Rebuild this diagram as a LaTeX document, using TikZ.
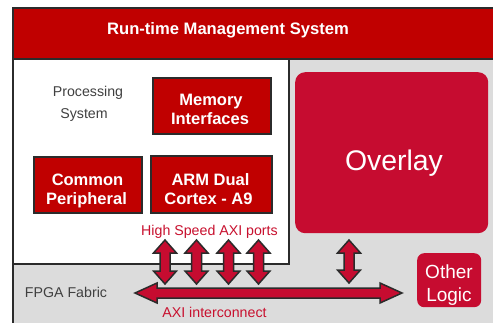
\documentclass[tikz,border=0pt]{standalone}
\usepackage{fontspec}
\setmainfont{Liberation Sans}
\definecolor{darkred}{HTML}{C00000}
\definecolor{crimson}{HTML}{C60C30}
\definecolor{fabricgray}{HTML}{DCDCDC}
\definecolor{edgegray}{HTML}{2B2B2B}
\definecolor{pstext}{HTML}{404040}
\definecolor{redtext}{HTML}{C8102E}
\tikzset{
  region/.style={draw=edgegray, line width=2pt, anchor=north west, inner sep=0pt},
  redbox/.style={draw=edgegray, line width=2.2pt, fill=darkred, anchor=north west, inner sep=0pt},
  boxtext/.style={text=white, inner sep=0pt, anchor=base, font=\fontsize{16.5}{19}\selectfont\bfseries},
  softbox/.style={fill=crimson, rounded corners=10pt, anchor=north west, inner sep=0pt},
  whitelabel/.style={text=white, inner sep=0pt, anchor=base},
  graylabel/.style={text=pstext, inner sep=0pt, anchor=base, font=\fontsize{14.2}{22}\selectfont},
  redlabel/.style={text=redtext, inner sep=0pt, anchor=base, font=\fontsize{14.2}{17}\selectfont},
  blockarrow/.style={fill=crimson, draw=edgegray, line width=1.5pt, line join=miter},
}
\newcommand\VArrow[4]{% name, x, ytop, ybottom
  \coordinate (#1-top) at (#2,#3);
  \coordinate (#1-bot) at (#2,#4);
  \draw[blockarrow] (#1-top) -- (#2+11.5,#3+13) -- (#2+5,#3+13) -- (#2+5,#4-13) -- (#2+11.5,#4-13)
    -- (#1-bot) -- (#2-11.5,#4-13) -- (#2-5,#4-13) -- (#2-5,#3+13) -- (#2-11.5,#3+13) -- cycle;}
\begin{document}
\begin{tikzpicture}[x=1pt,y=-1pt]
\useasboundingbox (0,0) rectangle (493,322);
\fill[white] (0,0) rectangle (493,322);
% FPGA fabric
\node[region, fill=fabricgray, minimum width=495pt, minimum height=280pt] (fpga) at (12,58) {};
% Processing system
\node[region, fill=white, minimum width=276pt, minimum height=205pt] (ps) at (12,58) {};
% Run-time management bar
\node[region, line width=1.5pt, fill=darkred, minimum width=495pt, minimum height=51pt] (rtms) at (12,7) {};
\node[whitelabel, font=\fontsize{16.6}{19}\selectfont\bfseries] (rtmslabel) at (228,34) {Run-time Management System};
% Overlay
\node[softbox, minimum width=193pt, minimum height=161pt] (overlay) at (295,72) {};
\node[whitelabel, font=\fontsize{28.4}{32}\selectfont] (overlaylabel) at (394,170) {Overlay};
% Other logic
\node[softbox, rounded corners=7pt, minimum width=64pt, minimum height=54pt] (other) at (417,253) {};
\node[whitelabel, font=\fontsize{19}{23}\selectfont] (otherlabel1) at (449,278) {Other};
\node[whitelabel, font=\fontsize{19}{23}\selectfont] (otherlabel2) at (449,301) {Logic};
% PS contents
\node[graylabel] (pslabel1) at (88,96.5) {Processing};
\node[graylabel] (pslabel2) at (84,118) {System};
\node[redbox, minimum width=118pt, minimum height=56pt] (mem) at (152,77) {};
\node[boxtext] (memlabel1) at (211,105) {Memory};
\node[boxtext] (memlabel2) at (210,124) {Interfaces};
\node[redbox, minimum width=108pt, minimum height=56pt] (common) at (33,156) {};
\node[boxtext] (commonlabel1) at (87.5,185) {Common};
\node[boxtext] (commonlabel2) at (86.5,204) {Peripheral};
\node[redbox, minimum width=121pt, minimum height=57pt] (arm) at (150,155) {};
\node[boxtext] (armlabel1) at (210.5,185) {ARM Dual};
\node[boxtext] (armlabel2) at (208.5,204) {Cortex - A9};
\node[redlabel] (hslabel) at (209.5,235) {High Speed AXI ports};
% Interconnect
\coordinate (axiL) at (135,293);
\coordinate (axiR) at (402,293);
\draw[blockarrow] (axiL) -- (157,283) -- (157,288) -- (380,288) -- (380,283) -- (axiR)
  -- (380,303) -- (380,298) -- (157,298) -- (157,303) -- cycle;
\VArrow{p1}{165}{240}{284}
\VArrow{p2}{196.5}{240}{284}
\VArrow{p3}{228.5}{240}{284}
\VArrow{p4}{258.5}{240}{284}
\VArrow{p5}{349}{240}{283}
\node[redlabel] (axilabel) at (214.5,317) {AXI interconnect};
\node[graylabel] (fpgalabel) at (66,297) {FPGA Fabric};
\end{tikzpicture}
\end{document}
